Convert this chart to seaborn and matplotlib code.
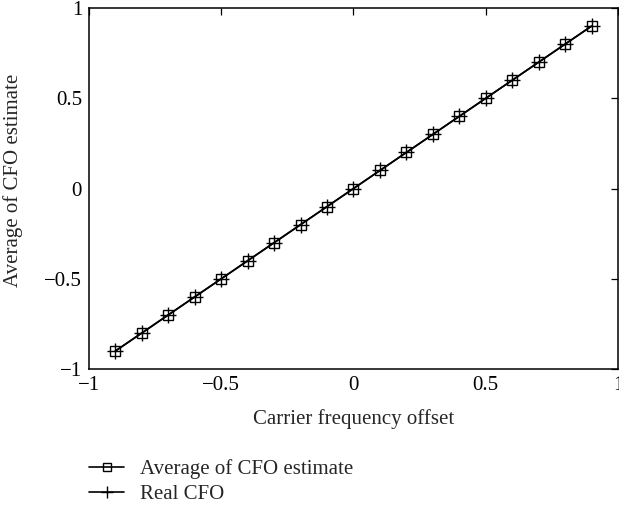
import numpy as np
import pandas as pd
import matplotlib
matplotlib.use("Agg")
import matplotlib.pyplot as plt
import seaborn as sns

# Carrier frequency offsets tested and the resulting estimates
real_cfo = [-0.9, -0.8, -0.7, -0.6, -0.5, -0.4, -0.3, -0.2, -0.1, 0.0,
            0.1, 0.2, 0.3, 0.4, 0.5, 0.6, 0.7, 0.8, 0.9]
avg_estimate = [-0.9, -0.8, -0.7, -0.6, -0.5, -0.4, -0.3, -0.2, -0.1, 0.0,
                0.1, 0.2, 0.3, 0.4, 0.5, 0.6, 0.7, 0.8, 0.9]
ticks = [-1, -0.5, 0, 0.5, 1]
tick_labels = ["\u22121", "\u22120.5", "0", "0.5", "1"]

sns.set_theme(style="white")
plt.rcParams["font.family"] = ["Liberation Serif", "DejaVu Serif"]
plt.rcParams["axes.unicode_minus"] = True

fig = plt.figure(figsize=(6.19, 5.05), dpi=100)
ax = fig.add_axes([0.1438, 0.2693, 0.8545, 0.7147])

df_est = pd.DataFrame({"x": real_cfo, "y": avg_estimate})
df_real = pd.DataFrame({"x": real_cfo, "y": real_cfo})

sns.lineplot(data=df_est, x="x", y="y", ax=ax, color="black", lw=1.2,
             marker="s", markersize=7.5, markerfacecolor="none",
             markeredgecolor="black", markeredgewidth=1.0,
             label="Average of CFO estimate")
sns.lineplot(data=df_real, x="x", y="y", ax=ax, color="black", lw=1.2,
             marker="+", markersize=11, markeredgewidth=1.0,
             markeredgecolor="black", label="Real CFO")

ax.set_xlim(-1, 1)
ax.set_ylim(-1, 1)
ax.set_xticks(ticks)
ax.set_xticklabels(tick_labels)
ax.set_yticks(ticks)
ax.set_yticklabels(tick_labels)
ax.tick_params(direction="in", length=5, width=0.9, top=True, right=True,
               labelsize=15, colors="black", pad=5)
for s in ax.spines.values():
    s.set_color("black")
    s.set_linewidth(1.1)

ax.set_xlabel("Carrier frequency offset", fontsize=15, labelpad=10)
ax.set_ylabel("Average of CFO estimate", fontsize=15)
ax.yaxis.set_label_coords(-0.125, 0.524)

leg = ax.legend(loc="upper left", bbox_to_anchor=(0.0, -0.25),
                frameon=False, fontsize=15, handlelength=1.7,
                handletextpad=0.75, labelspacing=0.25, borderaxespad=0,
                borderpad=0, markerscale=0.85)

fig.savefig("out.png", dpi=100)
